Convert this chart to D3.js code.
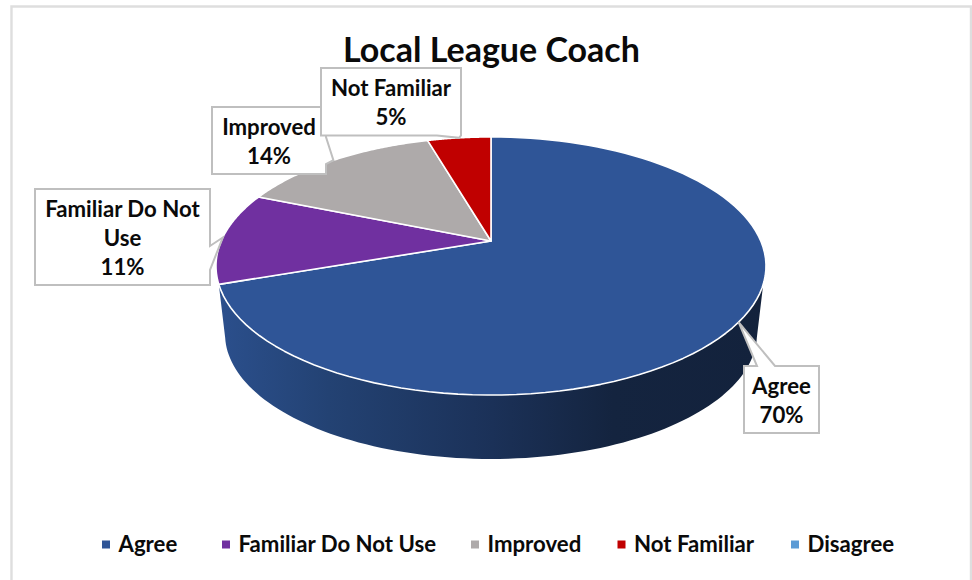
<!DOCTYPE html>
<html><head><meta charset="utf-8">
<script src="https://cdn.jsdelivr.net/npm/d3@7"></script>
<style>html,body{margin:0;padding:0;background:#fff}svg{display:block}text{font-family:Lato,sans-serif;font-weight:700;fill:#0a0a0a}</style>
</head><body><svg id="c" width="972" height="580"></svg>
<script>
const title = "Local League Coach";
const categories = ["Agree", "Familiar Do Not Use", "Improved", "Not Familiar", "Disagree"];
const sliceValues = [69.7, 11.5, 14.3, 4.5, 0];
const percentLabels = [70, 11, 14, 5, 0];
const colors = ["#2F5597", "#7030A0", "#AEAAAA", "#C00000", "#5B9BD5"];

const svg = d3.select("#c");
// frame
svg.append("path").attr("d","M11.5,580V6.5H971V580").attr("fill","none").attr("stroke","#dedede").attr("stroke-width",2.4);

// perspective projection of the unit disc
const P = {cx:491, cy:241, b:269.8, a:124.2, p:0.1938};
function proj(theta, s=1, cy=P.cy, r=1){
  const u = r*Math.sin(theta), v = r*Math.cos(theta), w = 1+P.p*v;
  return [P.cx + s*P.b*u/w, cy - s*P.a*v/w];
}
const pie = d3.pie().value(d=>d).sort(null).startAngle(0).endAngle(2*Math.PI);
const arcs = pie(sliceValues);
const line = d3.line();
const sample = (a0,a1,s,cy)=>d3.range(0,101).map(i=>proj(a0+(a1-a0)*i/100,s,cy));

const defs = svg.append("defs");
const grad = defs.append("linearGradient").attr("id","wall").attr("gradientUnits","userSpaceOnUse")
  .attr("x1",220).attr("x2",765).attr("y1",0).attr("y2",0);
[[0,"#2b4f8c"],[0.2,"#234273"],[0.5,"#1b3158"],[0.72,"#14243f"],[1,"#13223c"]].forEach(d=>grad.append("stop").attr("offset",d[0]).attr("stop-color",d[1]));

// side wall of the first slice
const wallS = 0.967, wallCy = 310;
const endA = arcs[0].endAngle;
const wallStart = Math.PI - (endA - Math.PI);
const wallPts = sample(wallStart,endA,1,P.cy).concat(sample(endA+0.11,wallStart-0.11,wallS,wallCy));
svg.append("path").attr("d",line(wallPts)+"Z").attr("fill","url(#wall)");

// top faces
arcs.forEach((d,i)=>{
  if(d.endAngle-d.startAngle<=0) return;
  const pts=[[P.cx,P.cy]].concat(sample(d.startAngle,d.endAngle,1,P.cy));
  svg.append("path").attr("d",line(pts)+"Z").attr("fill",colors[i]).attr("stroke","#fff").attr("stroke-width",1.6).attr("stroke-linejoin","round");
});

// title
svg.append("text").attr("x",491.5).attr("y",62).attr("text-anchor","middle").attr("font-size",34).text(title);

// callouts: box geometry and wedge base on the box
const callouts = [
 {i:3,x:321,y:68,w:140,h:67.5,base:[[461,118],[461,135.5],[437,135.5]],lines:["Not Familiar"]},
 {i:2,x:212,y:107,w:114,h:67,base:[[326,137],[326,164]],lines:["Improved"]},
 {i:1,x:35,y:189,w:175,h:96,base:[[210,246],[210,270]],lines:["Familiar Do Not","Use"]},
 {i:0,x:744,y:366,w:75,h:67,base:[[775,366],[757,366]],lines:["Agree"]}
];
const order=[callouts[1],callouts[0],callouts[2],callouts[3]];
order.forEach(c=>{
  const d=arcs[c.i], tip=proj((d.startAngle+d.endAngle)/2);
  const {x,y,w,h}=c, x2=x+w, y2=y+h;
  let pts;
  if(c.i===0) pts=[[x,y],[c.base[1][0],y],tip,[c.base[0][0],y],[x2,y],[x2,y2],[x,y2]];
  else if(c.i===3) pts=[[x,y],[x2,y],[x2,y2],tip,[c.base[2][0],y2],[x,y2]];
  else pts=[[x,y],[x2,y],[x2,c.base[0][1]],tip,[x2,c.base[1][1]],[x2,y2],[x,y2]];
  svg.append("path").attr("d",line(pts)+"Z").attr("fill","#fff").attr("stroke","#bfbfbf").attr("stroke-width",2);
  const rows=c.lines.concat([percentLabels[c.i]+"%"]);
  const lh=29.3, y0=y+h/2-(rows.length-1)*lh/2+8.8;
  rows.forEach((t,k)=>svg.append("text").attr("x",x+w/2).attr("y",y0+k*lh).attr("text-anchor","middle").attr("font-size",22.2).text(t));
});

// legend
const legendX=[102,222,471,617.5,791];
categories.forEach((c,i)=>{
  svg.append("rect").attr("x",legendX[i]).attr("y",540.5).attr("width",8).attr("height",8).attr("fill",colors[i]);
  svg.append("text").attr("x",legendX[i]+16.5).attr("y",551.7).attr("font-size",22.2).text(c);
});
</script></body></html>
